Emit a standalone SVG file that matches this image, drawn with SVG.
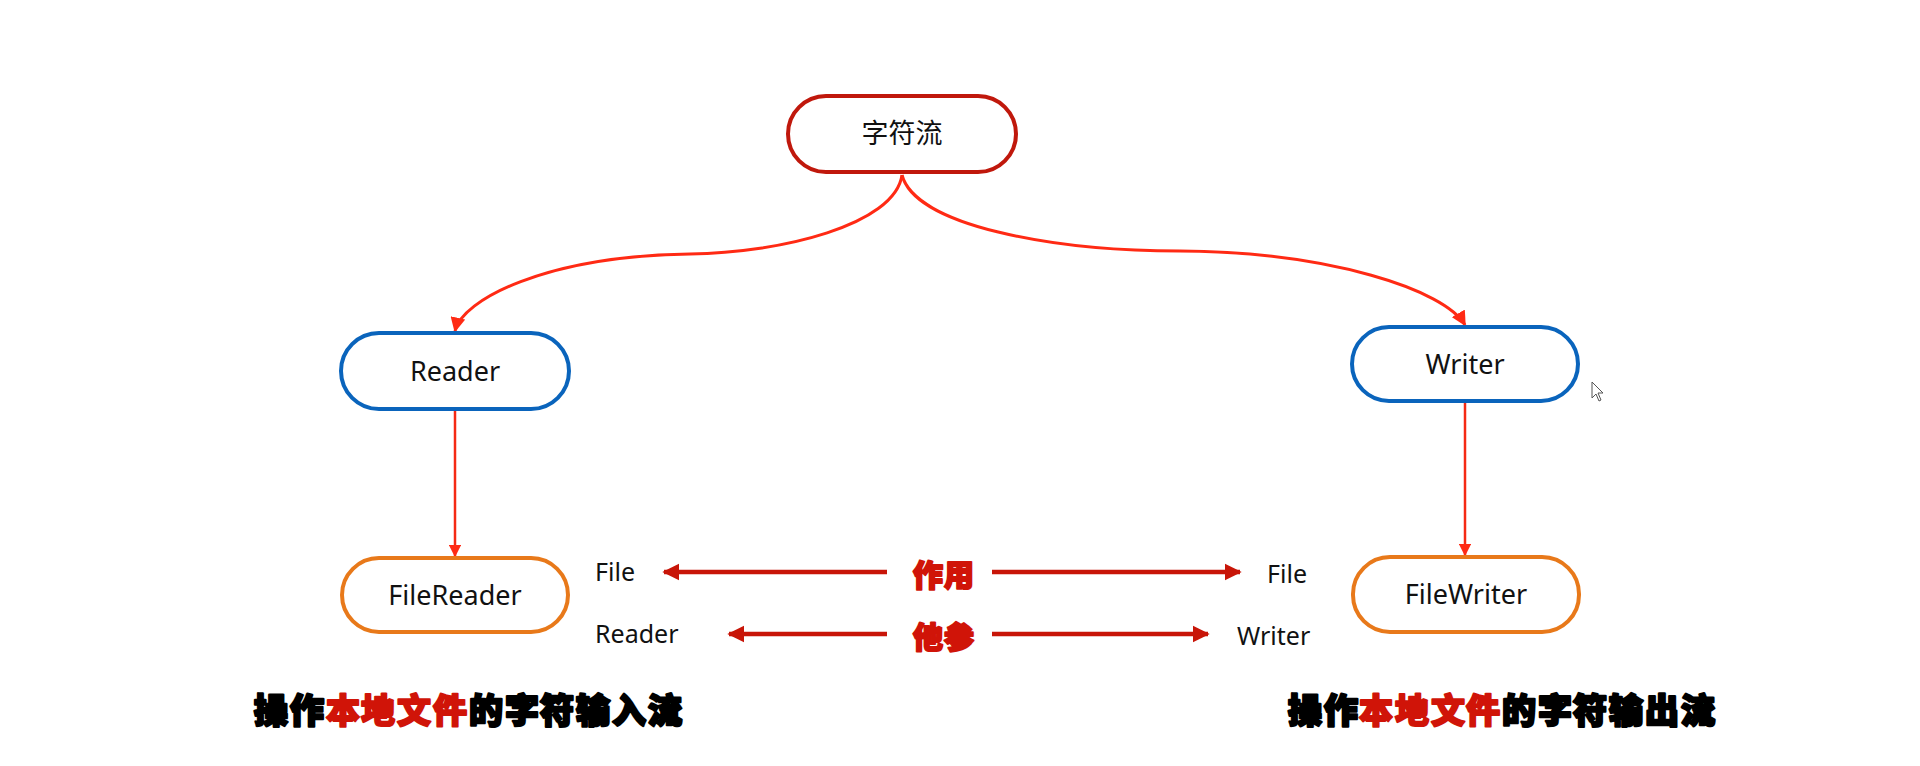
<svg xmlns="http://www.w3.org/2000/svg" width="1920" height="766" viewBox="0 0 1920 766">
<defs>
<style>
.node{fill:#fff;stroke-width:4}
.root{stroke:#c0180c}
.blue{stroke:#0a64bc}
.orange{stroke:#e8791a}
.lbl{font-family:"Noto Sans","Open Sans","Noto Sans CJK SC",sans-serif;font-size:27px;fill:#111;text-anchor:middle}
.side{font-family:"Noto Sans","Open Sans",sans-serif;font-size:25px;fill:#111}
.conn{fill:none;stroke:#ff2a14;stroke-width:3}
.vline{fill:none;stroke:#f52a14;stroke-width:2.5}
.dbl{fill:none;stroke:#c81508;stroke-width:4.5}
.cjk{font-family:"Noto Sans CJK SC",sans-serif;font-weight:900;stroke-linejoin:round}
.mid{font-size:30px}
.cap{font-size:34px}
.red{fill:#d01408;stroke:#d01408;stroke-width:2}
.blk{fill:#000;stroke:#000;stroke-width:2.5}
</style>
<marker id="ah" viewBox="0 0 10 10" refX="9" refY="5" markerWidth="5" markerHeight="5" orient="auto" markerUnits="strokeWidth">
<path d="M0,0 L10,5 L0,10 z" fill="#ff2a14"/>
</marker>
<marker id="ah2" viewBox="0 0 10 10" refX="9" refY="5" markerWidth="3.8" markerHeight="3.8" orient="auto" markerUnits="strokeWidth">
<path d="M0,0 L10,5 L0,10 z" fill="#c81508"/>
</marker>
</defs>
<rect width="1920" height="766" fill="#fff"/>

<g id="connectors">
<path class="conn" d="M902,175 C895,225 780,253 690,254 C545,256 462,300 455,331" marker-end="url(#ah)"/>
<path class="conn" d="M902,175 C915,225 1050,251 1180,251 C1330,252 1445,290 1465,325" marker-end="url(#ah)"/>
<path class="vline" d="M455,411 L455,556" marker-end="url(#ah)"/>
<path class="vline" d="M1465,403 L1465,555" marker-end="url(#ah)"/>
<path class="dbl" d="M887,572 L664,572" marker-end="url(#ah2)"/>
<path class="dbl" d="M992,572 L1240,572" marker-end="url(#ah2)"/>
<path class="dbl" d="M887,634 L729,634" marker-end="url(#ah2)"/>
<path class="dbl" d="M992,634 L1208,634" marker-end="url(#ah2)"/>
</g>

<g id="root">
<rect class="node root" x="788" y="96" width="228" height="76" rx="38"/>
<text class="lbl" x="902" y="143">字符流</text>
</g>
<g id="reader">
<rect class="node blue" x="341" y="333" width="228" height="76" rx="38"/>
<text class="lbl" x="455" y="381">Reader</text>
</g>
<g id="writer">
<rect class="node blue" x="1352" y="327" width="226" height="74" rx="37"/>
<text class="lbl" x="1465" y="374">Writer</text>
</g>
<g id="filereader">
<rect class="node orange" x="342" y="558" width="226" height="74" rx="37"/>
<text class="lbl" x="455" y="605">FileReader</text>
</g>
<g id="filewriter">
<rect class="node orange" x="1353" y="557" width="226" height="75" rx="37"/>
<text class="lbl" x="1466" y="604">FileWriter</text>
</g>

<g id="labels">
<text class="side" x="595" y="581">File</text>
<text class="side" x="595" y="643">Reader</text>
<text class="side" x="1267" y="583">File</text>
<text class="side" x="1237" y="645">Writer</text>
<text class="cjk mid red" x="913 944" y="586">作用</text>
<text class="cjk mid red" x="913 944" y="648">他参</text>
</g>

<g id="caption-left">
<text class="cjk cap" y="723"><tspan class="blk" x="254 290">操作</tspan><tspan class="red" x="326 361 397 433">本地文件</tspan><tspan class="blk" x="469 505 540 576 612 648">的字符输入流</tspan></text>
</g>
<g id="caption-right">
<text class="cjk cap" y="723"><tspan class="blk" x="1288 1324">操作</tspan><tspan class="red" x="1359 1395 1431 1466">本地文件</tspan><tspan class="blk" x="1502 1538 1573 1609 1645 1681">的字符输出流</tspan></text>
</g>

<g id="cursor">
<path d="M1592,382 L1592,398 L1596,394 L1599,401 L1601,400 L1598,393 L1603,393 Z" fill="#fff" stroke="#555" stroke-width="1"/>
</g>
</svg>
